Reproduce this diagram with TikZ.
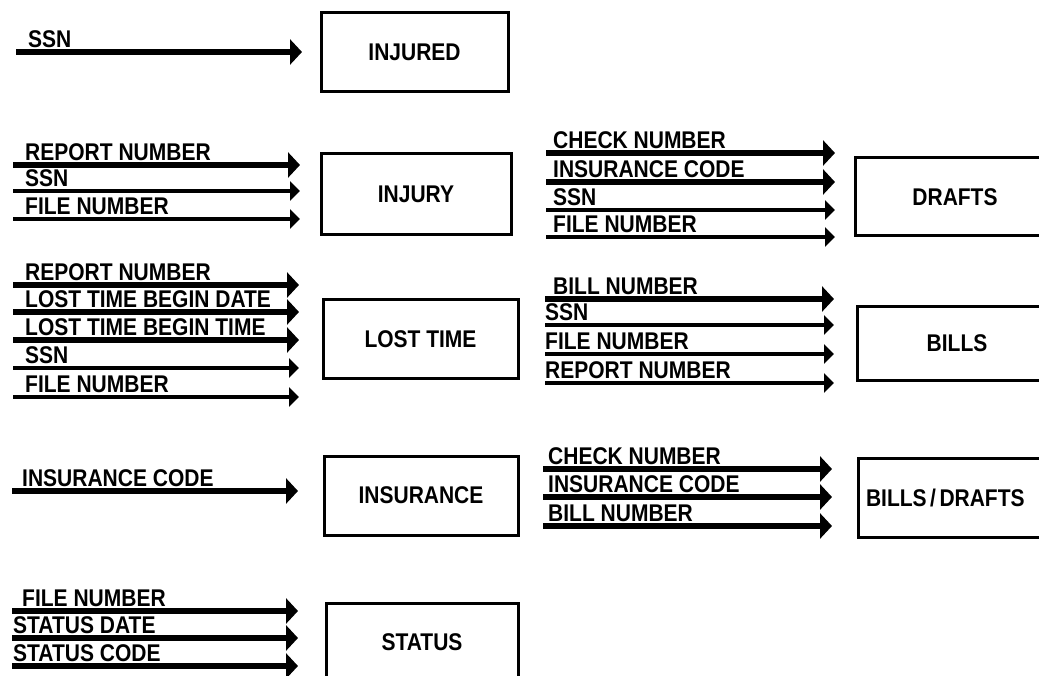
\documentclass[tikz,border=0pt]{standalone}
\usepackage{graphicx}
\usepackage{fontspec}
\setmainfont{Liberation Sans}
\usetikzlibrary{arrows.meta}
\newcommand{\tallt}[1]{\scalebox{1}[1.15]{#1}}
\begin{document}
\begin{tikzpicture}[x=1pt,y=-1pt,
  lbl/.style={anchor=south west,inner sep=0pt,font=\fontsize{21}{24}\selectfont\bfseries},
  box/.style={draw,line width=3pt,font=\fontsize{21}{24}\selectfont\bfseries,inner sep=0pt},
  thickarrow/.style={line width=6pt,-{Triangle[length=12pt,width=25pt]}},
  thinarrow/.style={line width=3.5pt,-{Triangle[length=10pt,width=19pt]}}]
\useasboundingbox (0,0) rectangle (1039,676);
\clip (0,0) rectangle (1039,676);
% boxes
\node[box,minimum width=187pt,minimum height=79pt] (injured) at (414.5,52.5) {\tallt{INJURED}};
\node[box,minimum width=190pt,minimum height=81pt] (injury) at (416,194.5) {\tallt{INJURY}};
\node[box,minimum width=195pt,minimum height=78pt] (losttime) at (420.5,339) {\tallt{LOST TIME}};
\node[box,minimum width=194pt,minimum height=79pt] (insurance) at (421,495.5) {\tallt{INSURANCE}};
\node[box,minimum width=192pt,minimum height=79pt] (status) at (422,642.5) {\tallt{STATUS}};
\node[box,minimum width=200pt,minimum height=78pt] (drafts) at (955,197) {\tallt{DRAFTS}};
\node[box,minimum width=200pt,minimum height=73pt] (bills) at (957,343.5) {\tallt{BILLS}};
\node[box,minimum width=200pt,minimum height=79pt,text width=184pt,align=left] (billsdrafts) at (958,497.5) {\tallt{BILLS\,/\,DRAFTS}};
% arrows: name, y, x0, x1, style, label x, text
\foreach \n/\y/\xa/\xb/\s/\lx/\t in {
  a1/52/16/302/thickarrow/28/SSN,
  b1/165/13/300/thickarrow/25/REPORT NUMBER,
  b2/191/13/300/thinarrow/25/SSN,
  b3/219/13/300/thinarrow/25/FILE NUMBER,
  c1/285/13/299/thickarrow/25/REPORT NUMBER,
  c2/312/13/299/thickarrow/25/LOST TIME BEGIN DATE,
  c3/340/13/299/thickarrow/25/LOST TIME BEGIN TIME,
  c4/368/13/299/thinarrow/25/SSN,
  c5/397/13/299/thinarrow/25/FILE NUMBER,
  d1/491/12/298/thickarrow/22/INSURANCE CODE,
  e1/611/12/298/thickarrow/22/FILE NUMBER,
  e2/638/12/298/thickarrow/13/STATUS DATE,
  e3/666/12/298/thickarrow/13/STATUS CODE,
  f1/153/546/835/thickarrow/553/CHECK NUMBER,
  f2/182/546/835/thickarrow/553/INSURANCE CODE,
  f3/210/546/835/thinarrow/553/SSN,
  f4/237/546/835/thinarrow/553/FILE NUMBER,
  g1/299/545/834/thickarrow/553/BILL NUMBER,
  g2/325/545/834/thinarrow/545/SSN,
  g3/354/545/834/thinarrow/545/FILE NUMBER,
  g4/383/545/834/thinarrow/545/REPORT NUMBER,
  h1/469/543/832/thickarrow/548/CHECK NUMBER,
  h2/497/543/832/thickarrow/548/INSURANCE CODE,
  h3/526/543/832/thickarrow/548/BILL NUMBER}
{
  \coordinate (\n s) at (\xa,\y);
  \coordinate (\n e) at (\xb,\y);
  \draw[\s] (\n s) -- (\n e);
  \node[lbl] (\n l) at (\lx,\y-4.5) {\tallt{\t}};
}
\end{tikzpicture}
\end{document}
